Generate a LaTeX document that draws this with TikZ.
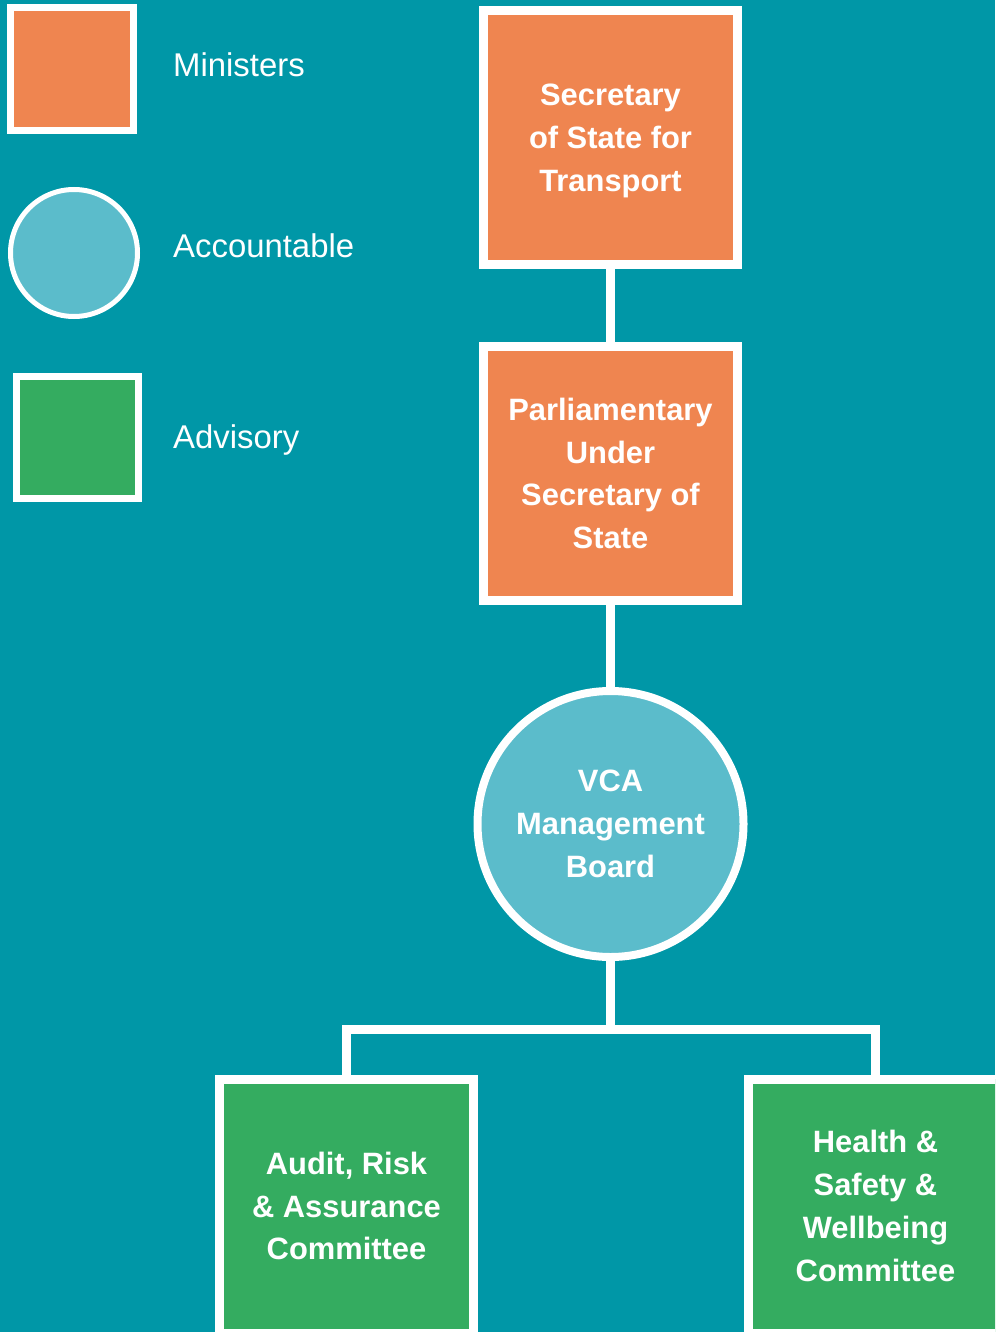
\documentclass[tikz,border=0pt]{standalone}
\usepackage{fontspec}
\setmainfont{Liberation Sans}
\usetikzlibrary{positioning}
\definecolor{bgteal}{RGB}{0,151,167}
\definecolor{minorange}{RGB}{239,133,80}
\definecolor{acclblue}{RGB}{91,188,203}
\definecolor{advgreen}{RGB}{52,172,96}
\tikzset{
  boxtext/.style={font=\fontsize{31}{43}\selectfont\bfseries, text=white, align=center},
  minbox/.style={draw=white, line width=9bp, fill=minorange, minimum width=254bp, minimum height=254bp, inner sep=0pt, boxtext},
  advbox/.style={draw=white, line width=9bp, fill=advgreen, minimum width=254bp, minimum height=254bp, inner sep=0pt, boxtext},
  accircle/.style={circle, draw=white, line width=8bp, fill=acclblue, minimum size=266bp, inner sep=0pt, boxtext},
  legtext/.style={font=\fontsize{33}{40}\selectfont, text=white, anchor=base west, inner sep=0pt},
  conn/.style={draw=white, line width=9bp, line join=miter}
}
\begin{document}
\begin{tikzpicture}[x=1bp,y=-1bp]
\useasboundingbox (0,0) rectangle (995,1332);
\clip (0,0) rectangle (995,1332);
\fill[bgteal] (0,0) rectangle (995,1332);
% legend
\node[draw=white, line width=7bp, fill=minorange, minimum size=123bp, inner sep=0pt] (legmin) at (72,69.5) {};
\node[circle, draw=white, line width=5bp, fill=acclblue, minimum size=127bp, inner sep=0pt] (legacc) at (74,253) {};
\node[draw=white, line width=7bp, fill=advgreen, minimum size=122bp, inner sep=0pt] (legadv) at (77.5,437) {};
\node[legtext] (tmin) at (173,77) {Ministers};
\node[legtext] (tacc) at (173,258) {Accountable};
\node[legtext] (tadv) at (173,448) {Advisory};
% chart
\node[minbox] (sec) at (610.5,137.5) {};
\node[boxtext, inner sep=0pt] (sectext) at (610.5,141) {Secretary\\of State for\\Transport};
\node[minbox] (par) at (610.5,473.5) {Parliamentary\\Under\\Secretary of\\State};
\node[accircle] (vca) at (610.5,824) {VCA\\Management\\Board};
\node[advbox] (audit) at (346.5,1206) {Audit, Risk\\\& Assurance\\Committee};
\node[advbox] (health) at (875.5,1206) {Health \&\\Safety \&\\Wellbeing\\Committee};
\coordinate (bus) at (610.5,1029);
\draw[conn] (sec.south) -- (par.north);
\draw[conn] (par.south) -- (vca.north);
\draw[conn] (vca.south) -- (bus);
\draw[conn] (audit.north) |- (bus) -| (health.north);
\end{tikzpicture}
\end{document}
